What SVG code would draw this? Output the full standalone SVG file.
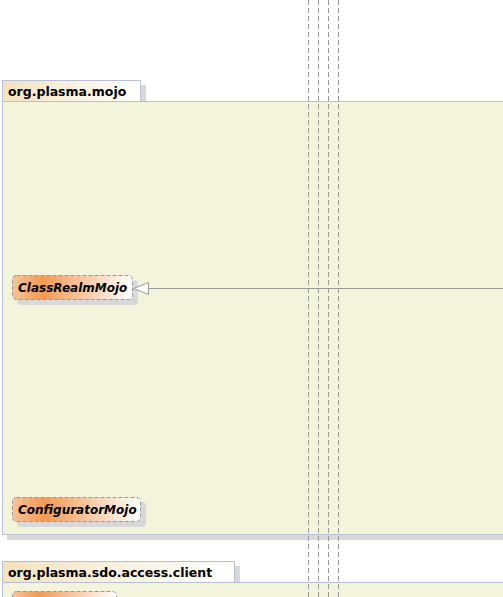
<svg xmlns="http://www.w3.org/2000/svg" width="503" height="597" viewBox="0 0 503 597">
<defs>
<linearGradient id="tabg" x1="0" y1="0" x2="1" y2="0">
<stop offset="0" stop-color="#f4e2bf"/>
<stop offset="1" stop-color="#ffffff"/>
</linearGradient>
<linearGradient id="nodeg" x1="0" y1="0" x2="1" y2="0">
<stop offset="0" stop-color="#f8c49a"/>
<stop offset="0.25" stop-color="#f39a55"/>
<stop offset="1" stop-color="#ffffff"/>
</linearGradient>
<style>
.shadow{fill:#d8d8d8}
.body{fill:#f4f4dc;stroke:#b8c0d8;stroke-width:1}
.tab{fill:url(#tabg);stroke:#b8c0d8;stroke-width:1}
.ptitle{font-family:"DejaVu Sans",Verdana,sans-serif;font-weight:bold;font-size:12.5px;fill:#000}
.node{fill:url(#nodeg);stroke:#999;stroke-width:1;stroke-dasharray:4,2}
.ntext{font-family:"DejaVu Sans",Verdana,sans-serif;font-weight:bold;font-style:italic;font-size:12px;fill:#000}
.life{stroke:#999;stroke-width:1;stroke-dasharray:5,3;fill:none}
.edge{stroke:#999;stroke-width:1;fill:none}
</style>
</defs>
<g id="pkg-mojo">
<rect class="shadow" x="141" y="85" width="5" height="16"/>
<rect class="shadow" x="7" y="535" width="496" height="5"/>
<rect class="body" x="2.5" y="101.5" width="510" height="433"/>
<rect class="tab" x="2.5" y="80.5" width="138" height="21"/>
<text class="ptitle" x="8" y="96">org.plasma.mojo</text>
</g>
<g id="pkg-client">
<rect class="shadow" x="235" y="566" width="5" height="16"/>
<rect class="body" x="2.5" y="582.5" width="510" height="30"/>
<rect class="tab" x="2.5" y="561.5" width="232" height="21"/>
<text class="ptitle" x="8" y="577">org.plasma.sdo.access.client</text>
</g>
<g id="node-ClassRealmMojo">
<rect class="shadow" x="17" y="280" width="121" height="25" rx="4"/>
<rect class="node" x="12.5" y="275.5" width="120" height="24" rx="4"/>
<text class="ntext" x="18" y="292">ClassRealmMojo</text>
</g>
<g id="node-ConfiguratorMojo">
<rect class="shadow" x="17" y="502" width="129" height="25" rx="4"/>
<rect class="node" x="12.5" y="497.5" width="128" height="24" rx="4"/>
<text class="ntext" x="18" y="514">ConfiguratorMojo</text>
</g>
<g id="node-client">
<rect class="node" x="12.5" y="591.5" width="104" height="24" rx="4"/>
</g>
<g id="connectors">
<line class="life" x1="308.5" y1="0" x2="308.5" y2="597"/>
<line class="life" x1="318.5" y1="0" x2="318.5" y2="597"/>
<line class="life" x1="328.5" y1="0" x2="328.5" y2="597"/>
<line class="life" x1="338.5" y1="0" x2="338.5" y2="597"/>
<line class="edge" x1="148" y1="288.5" x2="503" y2="288.5"/>
<polygon points="133.5,288.5 148.5,282.5 148.5,294.5" fill="#fff" stroke="#999" stroke-width="1"/>
</g>
</svg>
